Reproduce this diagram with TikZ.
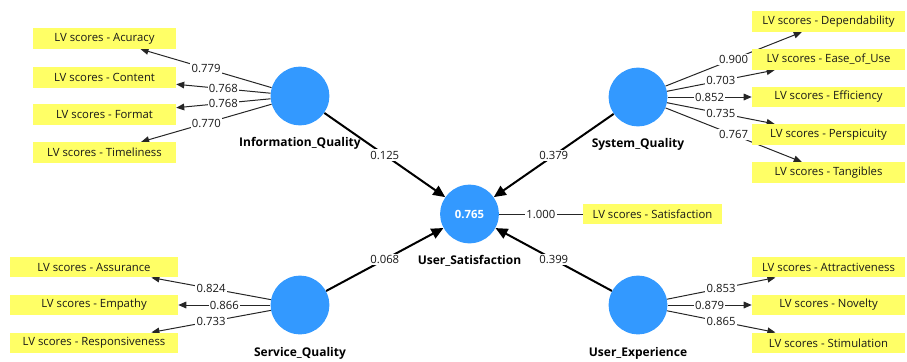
\documentclass[tikz,border=0pt]{standalone}
\usepackage{fontspec}
\setmainfont{Open Sans}
\usetikzlibrary{arrows.meta,backgrounds}

\definecolor{lvblue}{RGB}{51,153,255}
\definecolor{lvyellow}{RGB}{255,255,102}

\begin{document}
\begin{tikzpicture}[x=0.75pt,y=-0.75pt,
    font=\fontsize{8.5}{10}\selectfont,
    construct/.style={circle,fill=lvblue,minimum size=44pt,inner sep=0pt,text=white,
      font=\fontsize{8.5}{10}\selectfont\bfseries},
    lvname/.style={inner sep=0pt,font=\fontsize{9}{11}\selectfont\bfseries},
    indicator/.style={fill=lvyellow,minimum height=15.5pt,inner sep=0pt,text=black!90},
    coef/.style={fill=white,inner sep=1pt,text=black!90},
    loading/.style={draw=black!85,line width=0.75pt,-{Triangle[length=6pt,width=5pt]}},
    structural/.style={draw=black,line width=1.5pt,-{Triangle[length=9pt,width=8pt]}}]

    \useasboundingbox (0,0) rectangle (907,361);

% latent variables
    \node[construct] (iq) at (300,96) {};
    \node[construct] (sysq) at (638,97) {};
    \node[construct] (servq) at (300,305) {};
    \node[construct] (ux) at (638,305) {};
    \node[construct] (us) at (469.5,214) {0.765};

    \node[lvname] (iqname) at (300,143) {Information\_Quality};
    \node[lvname] (sysqname) at (638,144) {System\_Quality};
    \node[lvname] (servqname) at (300,353) {Service\_Quality};
    \node[lvname] (uxname) at (638,353) {User\_Experience};
    \node[lvname] (usname) at (469.5,261) {User\_Satisfaction};

% indicators
    \foreach \name/\x/\y/\w/\txt in {
        acu/104.5/38.5/143/Acuracy,
        con/104.5/77.5/143/Content,
        fmt/104.5/114.5/143/Format,
        tim/104.5/152.5/143/Timeliness,
        dep/828.5/21.5/153/Dependability,
        eou/828.5/59.5/153/Ease\_of\_Use,
        eff/828.5/97/153/Efficiency,
        per/828.5/134.5/153/Perspicuity,
        tan/828.5/172.5/153/Tangibles,
        ass/94/267/168/Assurance,
        emp/94/305/168/Empathy,
        res/94/343/168/Responsiveness,
        att/828.5/267/153/Attractiveness,
        nov/828.5/305/153/Novelty,
        sti/828.5/343/153/Stimulation,
        sat/652.5/214/139/Satisfaction}
    {
      \node[indicator,minimum width=\w*0.75pt] (\name) at (\x,\y) {LV scores - \txt};
    }

    \begin{scope}[on background layer]
      \foreach \from/\val in {iq/0.125,sysq/0.379,servq/0.068,ux/0.399}
        \draw[structural] (\from) -- node[coef] {\val} (us);

      \foreach \lv/\ind/\val in {
          iq/acu/0.779, iq/con/0.768, iq/fmt/0.768, iq/tim/0.770,
          sysq/dep/0.900, sysq/eou/0.703, sysq/eff/0.852, sysq/per/0.735, sysq/tan/0.767,
          servq/ass/0.824, servq/emp/0.866, servq/res/0.733,
          ux/att/0.853, ux/nov/0.879, ux/sti/0.865}
        \draw[loading] (\lv) -- node[coef] {\val} (\ind);

      \draw[draw=black!85,line width=0.75pt] (us) -- node[coef] {1.000} (sat);
    \end{scope}

\end{tikzpicture}
\end{document}
